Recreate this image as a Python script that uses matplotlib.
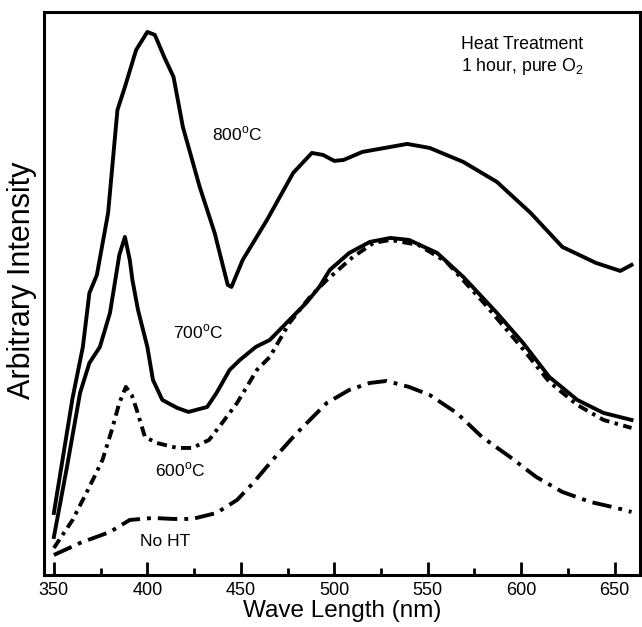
import matplotlib
matplotlib.use("Agg")
import matplotlib.pyplot as plt
from matplotlib.ticker import MultipleLocator

plt.rcParams['font.family'] = 'Liberation Sans'
plt.rcParams['mathtext.fontset'] = 'custom'
plt.rcParams['mathtext.rm'] = 'Liberation Sans'

# curves (arbitrary intensity units)
wl_800 = [350, 360, 365.5, 369, 373, 379, 384, 388, 394, 400, 404, 409, 414, 419, 428, 436,
          443, 445, 451, 464, 478, 488, 494, 500, 505, 515, 530, 539, 551, 569, 587, 605,
          622, 640, 653, 659]
int_800 = [62, 177, 228, 282, 300, 362, 465, 488, 525, 543, 540, 518, 498, 448, 388, 342,
           290, 288, 315, 355, 402, 422, 420, 414, 415, 423, 428, 431, 427, 413, 393, 362,
           328, 312, 304, 310]

wl_700 = [350, 357, 364, 369, 374.6, 380, 382, 385, 388, 390.6, 392, 395, 400, 403, 408, 416,
          422, 432, 437, 444, 449.5, 458, 465.5, 476, 485, 492, 497.6, 508, 519, 530, 540,
          555, 569, 579, 587, 601, 615, 630, 644, 659]
int_700 = [38, 108, 182, 212, 228, 262, 285, 320, 338, 315, 295, 265, 228, 195, 175, 167,
           163, 168, 182, 205, 215, 228, 235, 255, 272, 288, 305, 322, 333, 337, 335,
           322, 298, 278, 262, 232, 198, 175, 162, 155]

wl_600 = [350, 360, 369, 376, 381, 385, 388.5, 391.6, 394, 398.7, 405, 416, 424, 433, 440,
          448, 458.6, 465.5, 476, 487, 496, 510, 521, 530, 545, 560, 580, 600, 615, 630,
          644, 659]
int_600 = [27, 55, 88, 115, 145, 172, 188, 180, 167, 138, 132, 127, 127, 135, 152,
           172, 205, 218, 252, 278, 295, 318, 332, 335, 330, 313, 272, 228, 193, 170,
           155, 147]

wl_noht = [350, 364, 380, 390.6, 403, 414, 424, 437, 448, 456.6, 467, 480, 496, 508, 519,
           528, 540, 551, 565.5, 579, 594, 608, 622, 637, 651, 659]
int_noht = [20, 32, 43, 55, 57, 56, 56, 62, 75, 92, 115, 142, 172, 185, 192,
            194, 188, 180, 162, 138, 118, 98, 83, 73, 67, 63]

fig = plt.figure(figsize=(6.42, 6.27), dpi=100)
ax = fig.add_axes([0.0685, 0.083, 0.928, 0.898])

lw = 2.8
ax.plot(wl_800, int_800, color='black', lw=lw, solid_joinstyle='round')
ax.plot(wl_700, int_700, color='black', lw=lw, solid_joinstyle='round')
ax.plot(wl_600, int_600, color='black', lw=lw, linestyle=(0, (2.6, 1.4, 0.9, 1.4)))
ax.plot(wl_noht, int_noht, color='black', lw=lw, linestyle=(0, (5, 1.8, 1, 1.8)))

# curve labels
ax.text(448, 441, r'800$^{\rm o}$C', fontsize=12.5, ha='center', va='center')
ax.text(427, 243, r'700$^{\rm o}$C', fontsize=12.5, ha='center', va='center')
ax.text(417.5, 105, r'600$^{\rm o}$C', fontsize=12.5, ha='center', va='center')
ax.text(409.5, 33, 'No HT', fontsize=12.5, ha='center', va='center')
ax.text(600.7, 530, 'Heat Treatment', fontsize=12.8, ha='center', va='center')
ax.text(600.7, 508, r'1 hour, pure O$_2$', fontsize=12.8, ha='center', va='center')

ax.set_xlim(344.7, 663.4)
ax.set_ylim(0, 563)
ax.xaxis.set_major_locator(MultipleLocator(50))
ax.xaxis.set_minor_locator(MultipleLocator(25))
ax.tick_params(axis='x', which='major', direction='in', length=9.5, width=2, labelsize=13, pad=5)
ax.tick_params(axis='x', which='minor', direction='in', length=5, width=2)
ax.set_yticks([])
for s in ax.spines.values():
    s.set_linewidth(2.2)

ax.set_xlabel('Wave Length (nm)', fontsize=17.5, labelpad=1)
ax.set_ylabel('Arbitrary Intensity', fontsize=22)
ax.yaxis.set_label_coords(-0.012, 0.524)

fig.savefig('out.png', dpi=100)
